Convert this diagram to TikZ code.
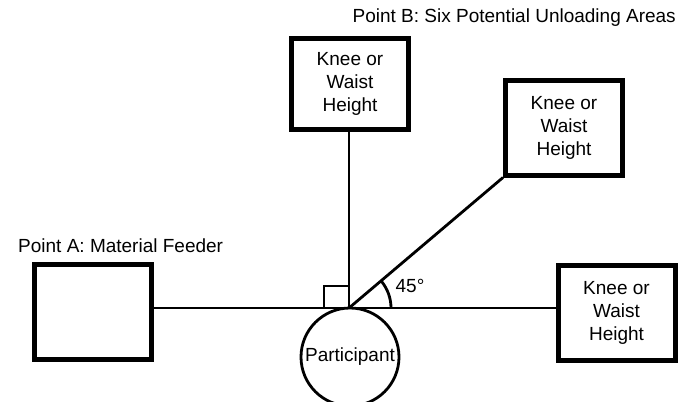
\documentclass[tikz,border=0pt]{standalone}
\usepackage{fontspec}
\setmainfont{Liberation Sans}
\begin{document}
\begin{tikzpicture}[x=1pt,y=-1pt,
  areabox/.style={draw,line width=5pt,minimum width=117pt,minimum height=95pt,align=center,inner sep=0pt,font=\fontsize{19}{23}\selectfont},
  conn/.style={line width=2.8pt},
  lbl/.style={font=\fontsize{19}{22}\selectfont,inner sep=0pt}]
\useasboundingbox (0,0) rectangle (689,402);
\clip (0,0) rectangle (689,402);
\coordinate (c) at (349,308);
\node[areabox] (feeder) at (92.5,312) {};
\node[areabox,minimum height=91pt] (top) at (350,84) {Knee or\\Waist\\Height};
\node[areabox] (diag) at (564,127.5) {Knee or\\Waist\\Height};
\node[areabox] (right) at (616.5,313) {Knee or\\Waist\\Height};
\node[draw,circle,line width=2.8pt,minimum size=98pt,inner sep=0pt,font=\fontsize{19}{22}\selectfont] (part) at (350,357) {Participant};
\draw[conn] (feeder.east |- c) -- (right.west |- c);
\draw[conn] (c) -- (c |- top.south);
\draw[conn] (c) -- (diag.south west);
\coordinate (sq) at (324,286);
\draw[conn] (c -| sq) -- (sq) -- (sq -| c);
\draw[conn] ([xshift=42pt]c) arc[start angle=0,end angle=40,radius=42pt];
\node[lbl] (angle) at (410,286) {45°};
\node[lbl,anchor=west] (pa) at (18,246) {Point A: Material Feeder};
\node[lbl,anchor=east] (pb) at (676,18) {Point B: Six Potential Unloading Areas};
\end{tikzpicture}
\end{document}
